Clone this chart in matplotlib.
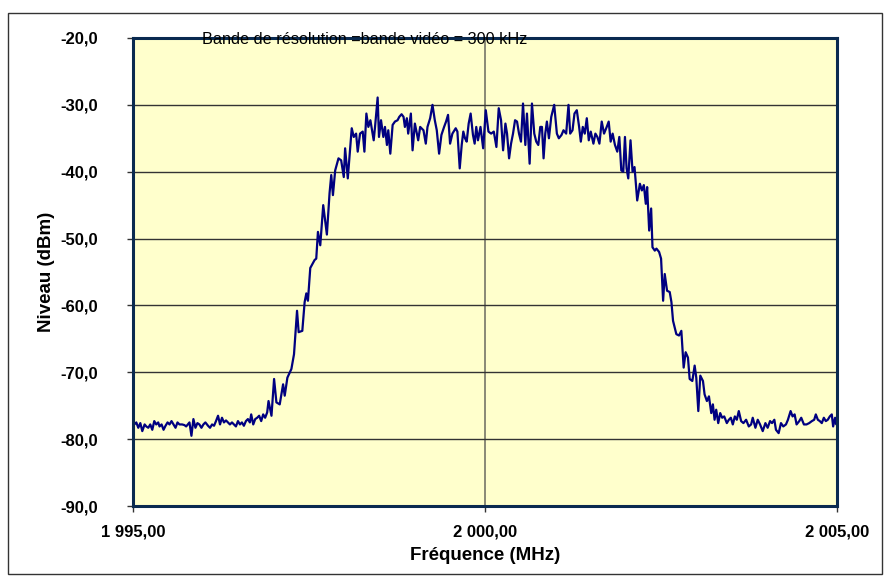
import matplotlib.pyplot as plt
from matplotlib.patches import Rectangle

freq = [
    1995.000, 1995.047, 1995.075, 1995.104, 1995.132, 1995.165, 1995.189, 1995.217,
    1995.245, 1995.274, 1995.302, 1995.330, 1995.358, 1995.377, 1995.406, 1995.434,
    1995.462, 1995.491, 1995.519, 1995.547, 1995.575, 1995.604, 1995.632, 1995.660,
    1995.698, 1995.731, 1995.755, 1995.778, 1995.802, 1995.830, 1995.858, 1995.887,
    1995.915, 1995.943, 1995.972, 1996.000, 1996.028, 1996.066, 1996.094, 1996.123,
    1996.151, 1996.179, 1996.208, 1996.236, 1996.264, 1996.292, 1996.321, 1996.349,
    1996.377, 1996.406, 1996.434, 1996.462, 1996.491, 1996.519, 1996.547, 1996.575,
    1996.604, 1996.632, 1996.660, 1996.679, 1996.708, 1996.736, 1996.764, 1996.792,
    1996.821, 1996.849, 1996.877, 1996.906, 1996.925, 1996.967, 1997.004, 1997.037,
    1997.084, 1997.132, 1997.155, 1997.193, 1997.250, 1997.287, 1997.330, 1997.353,
    1997.405, 1997.438, 1997.462, 1997.485, 1997.518, 1997.580, 1997.603, 1997.627,
    1997.660, 1997.702, 1997.754, 1997.792, 1997.816, 1997.840, 1997.872, 1997.919,
    1997.957, 1997.994, 1998.013, 1998.051, 1998.107, 1998.136, 1998.169, 1998.192,
    1998.225, 1998.263, 1998.287, 1998.315, 1998.343, 1998.372, 1998.419, 1998.438,
    1998.475, 1998.494, 1998.523, 1998.556, 1998.579, 1998.607, 1998.626, 1998.655,
    1998.688, 1998.721, 1998.758, 1998.782, 1998.815, 1998.843, 1998.862, 1998.890,
    1998.909, 1998.947, 1998.971, 1999.004, 1999.051, 1999.079, 1999.126, 1999.159,
    1999.183, 1999.221, 1999.254, 1999.287, 1999.315, 1999.348, 1999.381, 1999.419,
    1999.447, 1999.475, 1999.504, 1999.537, 1999.584, 1999.608, 1999.641, 1999.669,
    1999.692, 1999.716, 1999.740, 1999.768, 1999.796, 1999.829, 1999.853, 1999.876,
    1999.900, 1999.936, 1999.974, 2000.011, 2000.049, 2000.087, 2000.125, 2000.162,
    2000.195, 2000.228, 2000.257, 2000.290, 2000.313, 2000.342, 2000.370, 2000.398,
    2000.427, 2000.455, 2000.483, 2000.511, 2000.540, 2000.573, 2000.596, 2000.634,
    2000.667, 2000.700, 2000.728, 2000.757, 2000.785, 2000.809, 2000.832, 2000.856,
    2000.879, 2000.908, 2000.941, 2000.983, 2001.021, 2001.049, 2001.087, 2001.115,
    2001.153, 2001.186, 2001.210, 2001.243, 2001.271, 2001.304, 2001.337, 2001.361,
    2001.389, 2001.417, 2001.446, 2001.474, 2001.502, 2001.540, 2001.568, 2001.596,
    2001.625, 2001.658, 2001.691, 2001.729, 2001.757, 2001.785, 2001.813, 2001.846,
    2001.879, 2001.908, 2001.936, 2001.964, 2001.988, 2002.011, 2002.035, 2002.067,
    2002.096, 2002.124, 2002.162, 2002.200, 2002.228, 2002.256, 2002.284, 2002.303,
    2002.332, 2002.360, 2002.379, 2002.412, 2002.435, 2002.473, 2002.501, 2002.530,
    2002.553, 2002.586, 2002.624, 2002.648, 2002.671, 2002.695, 2002.718, 2002.756,
    2002.789, 2002.822, 2002.850, 2002.883, 2002.907, 2002.945, 2002.978, 2003.001,
    2003.030, 2003.058, 2003.096, 2003.119, 2003.152, 2003.181, 2003.214, 2003.237,
    2003.261, 2003.284, 2003.313, 2003.341, 2003.369, 2003.398, 2003.435, 2003.464,
    2003.492, 2003.520, 2003.549, 2003.577, 2003.605, 2003.638, 2003.671, 2003.709,
    2003.747, 2003.780, 2003.803, 2003.841, 2003.874, 2003.907, 2003.945, 2003.983,
    2004.015, 2004.049, 2004.077, 2004.110, 2004.133, 2004.171, 2004.204, 2004.237,
    2004.275, 2004.303, 2004.341, 2004.369, 2004.398, 2004.426, 2004.464, 2004.492,
    2004.530, 2004.567, 2004.605, 2004.643, 2004.676, 2004.699, 2004.728, 2004.756,
    2004.784, 2004.813, 2004.841, 2004.869, 2004.898, 2004.926, 2004.945, 2004.973,
    2004.992, 2005.000,
]
niveau = [
    -78.0, -77.5, -78.3, -77.6, -78.8, -77.8, -78.1, -78.3,
    -77.8, -78.6, -77.3, -77.8, -77.5, -78.1, -77.8, -78.6,
    -78.0, -77.5, -77.8, -77.3, -77.8, -78.3, -77.5, -77.8,
    -77.8, -77.9, -78.1, -77.8, -77.5, -79.5, -77.0, -78.3,
    -77.6, -77.8, -78.3, -77.8, -77.5, -78.0, -78.3, -77.8,
    -78.0, -77.3, -76.5, -77.8, -76.8, -77.5, -77.2, -77.5,
    -77.8, -77.5, -77.8, -78.1, -77.3, -77.8, -77.5, -78.0,
    -77.3, -77.0, -77.5, -76.3, -77.8, -77.0, -76.8, -76.5,
    -77.3, -76.3, -76.8, -76.0, -74.3, -76.5, -71.0, -74.5,
    -74.8, -71.8, -73.5, -70.8, -69.5, -67.3, -60.8, -64.0,
    -63.8, -59.5, -58.2, -59.3, -54.4, -53.2, -53.0, -49.0,
    -51.0, -45.0, -49.4, -43.2, -40.5, -43.5, -39.8, -38.0,
    -38.3, -40.8, -36.5, -41.0, -33.5, -34.8, -34.3, -37.0,
    -34.3, -34.0, -37.0, -31.3, -33.3, -32.3, -35.3, -33.3,
    -28.9, -34.8, -32.3, -34.8, -33.3, -36.0, -33.8, -37.3,
    -33.0, -32.5, -32.3, -31.8, -31.4, -31.8, -33.3, -32.0,
    -34.3, -31.3, -36.8, -32.8, -35.3, -33.3, -33.8, -35.8,
    -33.3, -32.0, -30.0, -32.3, -33.8, -37.3, -34.5, -33.3,
    -32.5, -31.5, -35.8, -34.3, -33.5, -34.0, -39.5, -36.0,
    -34.0, -35.0, -35.5, -32.8, -31.3, -34.5, -35.8, -33.3,
    -35.3, -33.3, -36.5, -30.8, -34.0, -34.3, -34.0, -36.3,
    -30.5, -32.3, -36.8, -32.8, -34.3, -38.0, -35.8, -34.3,
    -32.3, -32.5, -34.3, -35.5, -29.8, -36.0, -31.3, -38.8,
    -29.8, -34.3, -35.5, -36.0, -33.3, -33.3, -38.0, -34.3,
    -32.5, -35.0, -31.8, -30.0, -34.3, -35.0, -34.5, -33.8,
    -34.3, -30.0, -34.3, -33.8, -31.3, -30.8, -33.3, -35.5,
    -33.3, -34.3, -32.0, -35.3, -34.0, -35.8, -34.3, -34.8,
    -35.8, -32.5, -34.3, -33.3, -32.5, -35.5, -34.3, -36.0,
    -37.0, -34.8, -39.8, -40.0, -34.8, -39.5, -41.0, -35.3,
    -40.0, -39.3, -44.3, -41.8, -42.8, -42.0, -44.8, -42.3,
    -48.8, -45.5, -51.3, -51.8, -51.5, -52.0, -53.0, -59.3,
    -55.3, -57.8, -58.0, -59.5, -62.3, -63.3, -64.3, -64.5,
    -63.8, -69.3, -67.0, -67.8, -71.0, -71.3, -69.0, -70.8,
    -75.8, -70.5, -71.3, -73.3, -74.3, -73.6, -76.1, -74.8,
    -77.1, -75.6, -77.6, -76.1, -76.8, -76.6, -77.6, -77.1,
    -76.8, -77.8, -76.6, -77.1, -75.8, -77.3, -77.6, -77.1,
    -78.1, -77.8, -76.8, -78.3, -77.1, -77.8, -78.8, -77.6,
    -78.3, -77.3, -77.6, -77.1, -78.6, -79.1, -77.6, -78.1,
    -77.8, -77.1, -75.8, -76.6, -76.3, -77.8, -77.3, -76.8,
    -77.8, -77.8, -77.6, -77.3, -77.1, -76.3, -77.1, -77.3,
    -77.6, -76.8, -77.3, -77.1, -76.6, -76.3, -78.1, -76.8,
    -77.8, -77.0,
]

x_ticks = [1995, 2000, 2005]
x_labels = ['1 995,00', '2 000,00', '2 005,00']
y_ticks = [-90, -80, -70, -60, -50, -40, -30, -20]
y_labels = ['-90,0', '-80,0', '-70,0', '-60,0', '-50,0', '-40,0', '-30,0', '-20,0']

plt.rcParams['font.family'] = ['Liberation Sans', 'DejaVu Sans']

fig = plt.figure(figsize=(8.86, 5.78), dpi=100)
ax = fig.add_axes([133 / 886, 1 - 506 / 578, (837 - 133) / 886, (506 - 38) / 578])
ax.set_facecolor('#FFFFCC')

ax.plot(freq, niveau, color='#000080', lw=1.6, zorder=3)

ax.set_xlim(1995, 2005)
ax.set_ylim(-90, -20)
ax.set_xticks(x_ticks)
ax.set_xticklabels(x_labels, fontsize=12, fontweight='bold')
ax.set_yticks(y_ticks)
ax.set_yticklabels(y_labels, fontsize=12, fontweight='bold')
ax.tick_params(axis='y', length=4, width=1, color='#333333', pad=21)
ax.tick_params(axis='x', length=4, width=1, color='#333333', pad=9)

ax.grid(axis='y', color='#333333', lw=1)
ax.grid(axis='x', color='#808070', lw=1.3)
ax.set_axisbelow(True)
for s in ax.spines.values():
    s.set_color('#0A2A50')
    s.set_linewidth(2.2)
    s.set_zorder(4)

ax.set_xlabel('Fréquence (MHz)', fontsize=13.5, fontweight='bold', labelpad=6)
ax.set_ylabel('Niveau (dBm)', fontsize=13.5, fontweight='bold', labelpad=4)

fig.text(202 / 886, 1 - 40 / 578, 'Bande de résolution =bande vidéo = 300 kHz',
         fontsize=11.7, ha='left', va='center', zorder=10)

# cadre extérieur
fig.patches.append(Rectangle((8 / 886, 1 - 574 / 578), 874 / 886, 561 / 578,
                             transform=fig.transFigure, fill=False,
                             edgecolor='#333333', lw=1))

fig.savefig('out.png', dpi=100)
